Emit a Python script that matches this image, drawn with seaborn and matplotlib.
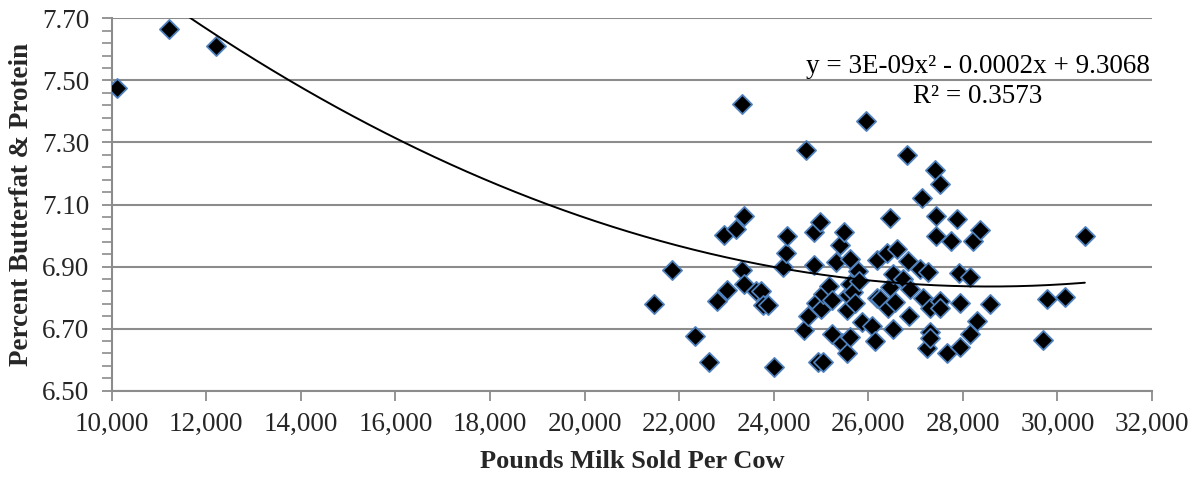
import numpy as np
import pandas as pd
import matplotlib
matplotlib.use("Agg")
import matplotlib.pyplot as plt
from matplotlib.ticker import FuncFormatter, FixedLocator
import seaborn as sns

# Herd averages: pounds of milk sold per cow vs. combined butterfat + protein percent
milk_lbs = [
    10110, 11220, 12210,
    21460, 21860, 22330, 22640, 22800, 23010, 22940, 23200, 23370, 23330, 23380,
    23320, 23620, 23730, 23780, 23890, 24000, 24200, 24270, 24290, 24640, 24730,
    24680, 24850, 24860, 24900, 24980, 25000, 25050, 24930, 25050, 25160, 25230,
    25230, 25310, 25400, 25490, 25440, 25540, 25540, 25580, 25610, 25610, 25610,
    25680, 25720, 25780, 25810, 25860, 25950, 26070, 26140, 26180, 26180, 26250,
    26390, 26420, 26460, 26460, 26530, 26530, 26560, 26600, 26740, 26810, 26850,
    26870, 26880, 27090, 27140, 27150, 27240, 27270, 27300, 27300, 27300, 27410,
    27430, 27430, 27520, 27520, 27520, 27660, 27760, 27870, 27920, 27940, 27950,
    28150, 28150, 28210, 28290, 28360, 28570, 29690, 29790, 30170, 30580,
]
fat_protein_pct = [
    7.475, 7.665, 7.610,
    6.780, 6.888, 6.675, 6.592, 6.790, 6.825, 7.002, 7.022, 7.063, 6.888, 6.845,
    7.424, 6.820, 6.822, 6.775, 6.775, 6.576, 6.900, 6.943, 7.000, 6.697, 6.742,
    7.275, 7.010, 6.905, 6.783, 7.045, 6.763, 6.811, 6.592, 6.592, 6.838, 6.792,
    6.682, 6.915, 6.968, 7.013, 6.655, 6.620, 6.760, 6.810, 6.924, 6.843, 6.672,
    6.817, 6.782, 6.886, 6.854, 6.720, 7.368, 6.710, 6.661, 6.921, 6.800, 6.795,
    6.945, 6.765, 7.055, 6.833, 6.876, 6.700, 6.785, 6.956, 6.860, 7.258, 6.918,
    6.742, 6.827, 6.892, 7.122, 6.800, 6.637, 6.881, 6.765, 6.690, 6.669, 7.210,
    7.063, 7.000, 7.165, 6.790, 6.765, 6.622, 6.982, 7.052, 6.879, 6.782, 6.640,
    6.868, 6.683, 6.982, 6.725, 7.018, 6.780, 6.665, 6.797, 6.803, 6.997,
]

# Quadratic trendline coefficients (x^2, x, constant); the label shows them rounded
trend_coef = [3.028e-9, -1.730e-4, 9.3068]
trend_eq_text = "y = 3E-09x\u00b2 - 0.0002x + 9.3068"
trend_r2_text = "R\u00b2 = 0.3573"

x_ticks = list(range(10000, 32001, 2000))
y_ticks = [6.50, 6.70, 6.90, 7.10, 7.30, 7.50, 7.70]

df = pd.DataFrame({"milk": milk_lbs, "pct": fat_protein_pct})

sns.set_theme(style="white")
plt.rcParams["font.family"] = ["Liberation Serif", "DejaVu Serif"]

fig = plt.figure(figsize=(12.02, 4.79), dpi=100)
ax = fig.add_axes([0.0929, 0.1843, 0.8655, 0.7775])

grid_color = "#8c8c8c"
for yv in y_ticks:
    ax.axhline(yv, color=grid_color, lw=1.5, zorder=0)

sns.scatterplot(data=df, x="milk", y="pct", marker="D", s=95, color="black",
                edgecolor="#4f81bd", linewidth=1.3, ax=ax, zorder=3)

# Trendline drawn across the observed range of the data
xs = np.linspace(df["milk"].min(), df["milk"].max(), 300)
trend = pd.DataFrame({"milk": xs, "pct": np.polyval(trend_coef, xs)})
sns.lineplot(data=trend, x="milk", y="pct", color="black", lw=1.4, ax=ax, zorder=4)

fig.text(0.8136, 1 - 73 / 479, trend_eq_text, ha="center", va="baseline",
         fontsize=19.5, color="black")
fig.text(0.8136, 1 - 103 / 479, trend_r2_text, ha="center", va="baseline",
         fontsize=19.5, color="black")

ax.set_xlim(10000, 32000)
ax.set_ylim(6.50, 7.70)
ax.set_xticks(x_ticks)
ax.set_yticks(y_ticks)
# Five minor divisions between each labelled value
minor_y = np.round(np.arange(y_ticks[0], y_ticks[-1] + 1e-9, 0.04), 2)
ax.yaxis.set_minor_locator(FixedLocator(minor_y))
ax.xaxis.set_major_formatter(FuncFormatter(lambda v, p: f"{int(v):,}"))
ax.yaxis.set_major_formatter(FuncFormatter(lambda v, p: f"{v:.2f}"))
ax.tick_params(axis="both", which="major", labelsize=19.5, length=7, width=1.3,
               color=grid_color, direction="out")
ax.tick_params(axis="x", which="major", pad=8, bottom=True)
ax.tick_params(axis="y", which="major", pad=9, left=True)
ax.tick_params(axis="y", which="minor", length=7, width=1.2, color=grid_color,
               direction="out", left=True)

for side in ("top", "right"):
    ax.spines[side].set_visible(False)
for side in ("left", "bottom"):
    ax.spines[side].set_color(grid_color)
    ax.spines[side].set_linewidth(1.5)

ax.set_xlabel("Pounds Milk Sold Per Cow", fontsize=19, fontweight="bold", labelpad=10)
ax.set_ylabel("Percent Butterfat & Protein", fontsize=19.5, fontweight="bold", labelpad=6)

fig.savefig("out.png", dpi=100)
